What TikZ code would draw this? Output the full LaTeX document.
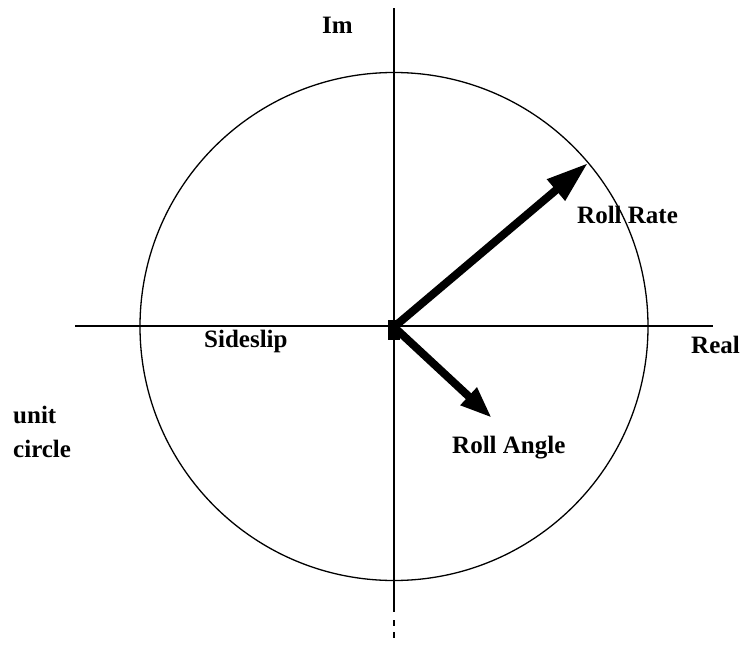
\documentclass[tikz,border=0pt]{standalone}
\usepackage{fontspec}
\setmainfont{Liberation Serif}
\usetikzlibrary{arrows.meta}
\begin{document}
\begin{tikzpicture}[x=1pt,y=-1pt,
  lbl/.style={anchor=base west,inner sep=0pt,font=\fontsize{25}{27}\selectfont\bfseries},
  thin line/.style={line width=1.3pt},
  vec/.style={line width=8pt}]
\useasboundingbox (0,0) rectangle (740,645);
\coordinate (O) at (394,327);
\coordinate (RR) at (588,163);
\coordinate (RA) at (492,418);
\coordinate (Xl) at (75,326);
\coordinate (Xr) at (713,326);
\coordinate (Yt) at (394,8);
\coordinate (Yb) at (394,612);
\coordinate (Yb1) at (394,620);
\coordinate (Yb2) at (394,642);
% unit circle
\draw[thin line] (394,326.5) circle[radius=254];
% axes
\draw[thin line] (Xl) -- (Xr);
\draw[thin line] (Yt) -- (Yb);
\draw[thin line,dash pattern=on 6pt off 6pt] (Yb1) -- (Yb2);
% vectors
\draw[vec,-{Triangle[length=42pt,width=26pt]}] (O) -- (RR);
\draw[vec,-{Triangle[length=32pt,width=22pt]}] (O) -- (RA);
\fill (388,320) rectangle (400,340);
% labels
\node[lbl] (im) at (322,34) {Im};
\node[lbl] (rr) at (577,223) {Roll Rate};
\node[lbl] (ss) at (204,347) {Sideslip};
\node[lbl] (re) at (691,353) {Real};
\node[lbl] (ra) at (452,453) {Roll Angle};
\node[lbl] (un) at (13,423) {unit};
\node[lbl] (ci) at (13,457) {circle};
\end{tikzpicture}
\end{document}
